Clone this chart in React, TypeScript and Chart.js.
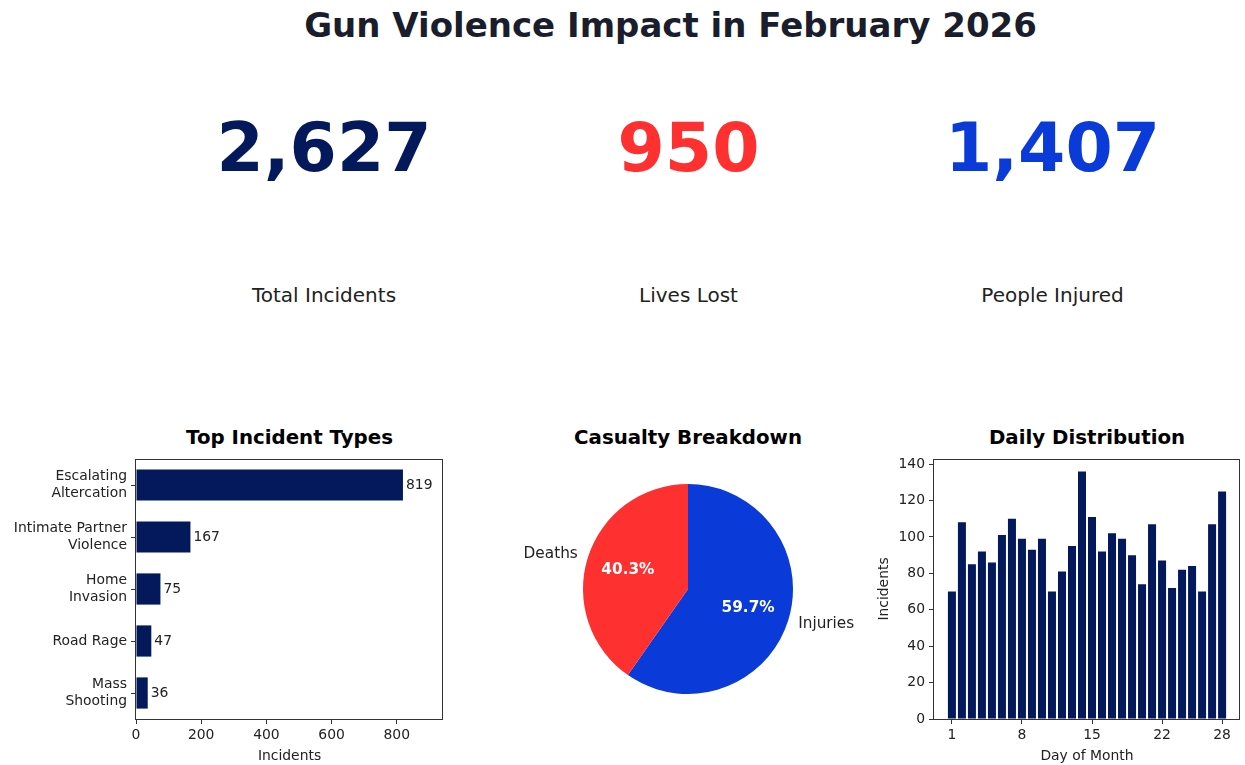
import React, { useEffect, useRef } from 'react';
import { Chart, registerables } from 'chart.js';

Chart.register(...registerables);

const FONT = 'DejaVu Sans';
const NAVY = '#03195c';
const RED = '#ff3030';
const BLUE = '#0a3ad8';
const TEXT = '#222222';
const AXIS = '#333333';

const mainTitle = 'Gun Violence Impact in February 2026';
const kpiValues = ['2,627', '950', '1,407'];
const kpiLabels = ['Total Incidents', 'Lives Lost', 'People Injured'];
const kpiColors = [NAVY, RED, BLUE];

const incidentTypes = [
  ['Escalating', 'Altercation'],
  ['Intimate Partner', 'Violence'],
  ['Home', 'Invasion'],
  ['Road Rage'],
  ['Mass', 'Shooting'],
];
const incidentCounts = [819, 167, 75, 47, 36];
const incidentTicks = [0, 200, 400, 600, 800];

const pieLabels = ['Injuries', 'Deaths'];
const pieValues = [1407, 950];
const pieColors = [BLUE, RED];

const days = [1, 2, 3, 4, 5, 6, 7, 8, 9, 10, 11, 12, 13, 14, 15, 16, 17, 18, 19, 20, 21, 22, 23, 24, 25, 26, 27, 28];
const dailyCounts = [70, 108, 85, 92, 86, 101, 110, 99, 93, 99, 70, 81, 95, 136, 111, 92, 102, 99, 90, 74, 107, 87, 72, 82, 84, 70, 107, 125];
const dayTicks = [1, 8, 15, 22, 28];
const dailyYTicks = [0, 20, 40, 60, 80, 100, 120, 140];

const framePlugin = {
  id: 'frame',
  afterDraw(chart: any) {
    const { ctx, chartArea: a } = chart;
    const x0 = Math.round(a.left) - 0.5;
    const y0 = Math.round(a.top) + 0.5;
    const x1 = Math.round(a.right) - 0.5;
    const y1 = Math.round(a.bottom) + 0.5;
    ctx.save();
    ctx.strokeStyle = AXIS;
    ctx.lineWidth = 1;
    ctx.strokeRect(x0, y0, x1 - x0, y1 - y0);
    ctx.restore();
  },
};

const barValuePlugin = {
  id: 'barValues',
  afterDatasetsDraw(chart: any) {
    const { ctx } = chart;
    const meta = chart.getDatasetMeta(0);
    ctx.save();
    ctx.font = `13.9px "${FONT}"`;
    ctx.fillStyle = TEXT;
    ctx.textAlign = 'left';
    ctx.textBaseline = 'middle';
    meta.data.forEach((el: any, i: number) => {
      ctx.fillText(String(incidentCounts[i]), el.x + 3, el.y);
    });
    ctx.restore();
  },
};

const pieLabelPlugin = {
  id: 'pieLabels',
  afterDatasetsDraw(chart: any) {
    const { ctx } = chart;
    const meta = chart.getDatasetMeta(0);
    const total = pieValues.reduce((s, v) => s + v, 0);
    ctx.save();
    ctx.textBaseline = 'middle';
    meta.data.forEach((arc: any, i: number) => {
      const p = arc.getProps(['x', 'y', 'startAngle', 'endAngle', 'outerRadius'], true);
      const mid = (p.startAngle + p.endAngle) / 2;
      const cx = Math.cos(mid);
      const cy = Math.sin(mid);
      ctx.font = `15.3px "${FONT}"`;
      ctx.fillStyle = TEXT;
      ctx.textAlign = cx < 0 ? 'right' : 'left';
      ctx.fillText(pieLabels[i], p.x + cx * p.outerRadius * 1.1, p.y + cy * p.outerRadius * 1.1);
      ctx.font = `bold 15.3px "${FONT}"`;
      ctx.fillStyle = '#ffffff';
      ctx.textAlign = 'center';
      ctx.fillText(((pieValues[i] / total) * 100).toFixed(1) + '%', p.x + cx * p.outerRadius * 0.6, p.y + cy * p.outerRadius * 0.6);
    });
    ctx.restore();
  },
};

const tickFont = { family: FONT, size: 13.9 };

function HBarChart() {
  const ref = useRef<HTMLCanvasElement | null>(null);
  useEffect(() => {
    const chart = new Chart(ref.current as HTMLCanvasElement, {
      type: 'bar',
      data: {
        labels: incidentTypes as any,
        datasets: [{ data: incidentCounts, backgroundColor: NAVY, barPercentage: 0.6, categoryPercentage: 1 }],
      },
      options: {
        indexAxis: 'y',
        animation: false,
        responsive: false,
        maintainAspectRatio: false,
        layout: { padding: { left: 0, top: 29, right: 17, bottom: 0 } },
        plugins: { legend: { display: false }, tooltip: { enabled: false } },
        scales: {
          x: {
            type: 'linear',
            min: 0,
            max: 941.85,
            afterBuildTicks: (s: any) => { s.ticks = incidentTicks.map((v) => ({ value: v })); },
            afterFit: (s: any) => { s.height = 46; },
            grid: { drawOnChartArea: false, tickLength: 5, color: AXIS },
            border: { display: false },
            ticks: { color: TEXT, font: tickFont, padding: 3, maxRotation: 0, autoSkip: false },
            title: { display: true, text: 'Incidents', color: TEXT, font: tickFont, padding: { top: 1, bottom: 0 } },
          },
          y: {
            afterFit: (s: any) => { s.width = 136; },
            grid: { drawOnChartArea: false, tickLength: 5, color: AXIS, offset: false },
            border: { display: false },
            ticks: { color: TEXT, font: tickFont, padding: 4, autoSkip: false },
          },
        },
      } as any,
      plugins: [framePlugin, barValuePlugin],
    });
    return () => chart.destroy();
  }, []);
  return <canvas ref={ref} width={460} height={335} style={{ position: 'absolute', left: 0, top: 430, width: 460, height: 335 }} />;
}

function PieChart() {
  const ref = useRef<HTMLCanvasElement | null>(null);
  useEffect(() => {
    const chart = new Chart(ref.current as HTMLCanvasElement, {
      type: 'pie',
      data: {
        labels: pieLabels,
        datasets: [{ data: pieValues, backgroundColor: pieColors, borderWidth: 0 }],
      },
      options: {
        animation: false,
        responsive: false,
        maintainAspectRatio: false,
        layout: { padding: { left: 0, right: 0, top: 35, bottom: 35 } },
        plugins: { legend: { display: false }, tooltip: { enabled: false } },
      } as any,
      plugins: [pieLabelPlugin],
    });
    return () => chart.destroy();
  }, []);
  return <canvas ref={ref} width={380} height={280} style={{ position: 'absolute', left: 498, top: 449, width: 380, height: 280 }} />;
}

function DailyChart() {
  const ref = useRef<HTMLCanvasElement | null>(null);
  useEffect(() => {
    const chart = new Chart(ref.current as HTMLCanvasElement, {
      type: 'bar',
      data: {
        datasets: [{
          data: days.map((d, i) => ({ x: d, y: dailyCounts[i] })),
          backgroundColor: NAVY,
          barPercentage: 0.8,
          categoryPercentage: 1,
        }],
      },
      options: {
        animation: false,
        responsive: false,
        maintainAspectRatio: false,
        layout: { padding: { left: 0, top: 29, right: 5, bottom: 0 } },
        plugins: { legend: { display: false }, tooltip: { enabled: false } },
        scales: {
          x: {
            type: 'linear',
            min: -0.79,
            max: 29.79,
            offset: false,
            afterBuildTicks: (s: any) => { s.ticks = dayTicks.map((v) => ({ value: v })); },
            afterFit: (s: any) => { s.height = 46; },
            grid: { drawOnChartArea: false, tickLength: 5, color: AXIS, offset: false },
            border: { display: false },
            ticks: { color: TEXT, font: tickFont, padding: 3, maxRotation: 0, autoSkip: false },
            title: { display: true, text: 'Day of Month', color: TEXT, font: tickFont, padding: { top: 1, bottom: 0 } },
          },
          y: {
            type: 'linear',
            min: 0,
            max: 142.8,
            afterBuildTicks: (s: any) => { s.ticks = dailyYTicks.map((v) => ({ value: v })); },
            afterFit: (s: any) => { s.width = 64; },
            grid: { drawOnChartArea: false, tickLength: 5, color: AXIS },
            border: { display: false },
            ticks: { color: TEXT, font: tickFont, padding: 4, autoSkip: false },
            title: { display: true, text: 'Incidents', color: TEXT, font: tickFont, padding: { top: 6, bottom: 0 } },
          },
        },
      } as any,
      plugins: [framePlugin],
    });
    return () => chart.destroy();
  }, []);
  return <canvas ref={ref} width={375} height={335} style={{ position: 'absolute', left: 870, top: 430, width: 375, height: 335 }} />;
}

function CenterText(props: { x: number; y: number; size: number; color: string; bold?: boolean; children: React.ReactNode }) {
  return (
    <div
      style={{
        position: 'absolute',
        left: props.x,
        top: props.y,
        transform: 'translate(-50%, -50%)',
        fontFamily: FONT,
        fontSize: props.size,
        fontWeight: props.bold ? 'bold' : 'normal',
        color: props.color,
        lineHeight: 1,
        whiteSpace: 'nowrap',
      }}
    >
      {props.children}
    </div>
  );
}

export default function App() {
  useEffect(() => {
    document.body.style.margin = '0';
  }, []);
  const kpiX = [324, 688.5, 1052.5];
  return (
    <div style={{ position: 'relative', width: 1245, height: 765, background: '#ffffff', overflow: 'hidden' }}>
      <CenterText x={670.5} y={24.5} size={34} color="#1a1d2b" bold>{mainTitle}</CenterText>
      {kpiValues.map((v, i) => (
        <CenterText key={'v' + i} x={kpiX[i]} y={148} size={68} color={kpiColors[i]} bold>{v}</CenterText>
      ))}
      {kpiLabels.map((l, i) => (
        <CenterText key={'l' + i} x={kpiX[i]} y={295} size={20} color={TEXT}>{l}</CenterText>
      ))}
      <CenterText x={289.5} y={437.5} size={19.8} color="#000000" bold>Top Incident Types</CenterText>
      <CenterText x={688} y={437.5} size={19.8} color="#000000" bold>Casualty Breakdown</CenterText>
      <CenterText x={1087} y={437.5} size={19.8} color="#000000" bold>Daily Distribution</CenterText>
      <HBarChart />
      <PieChart />
      <DailyChart />
    </div>
  );
}
